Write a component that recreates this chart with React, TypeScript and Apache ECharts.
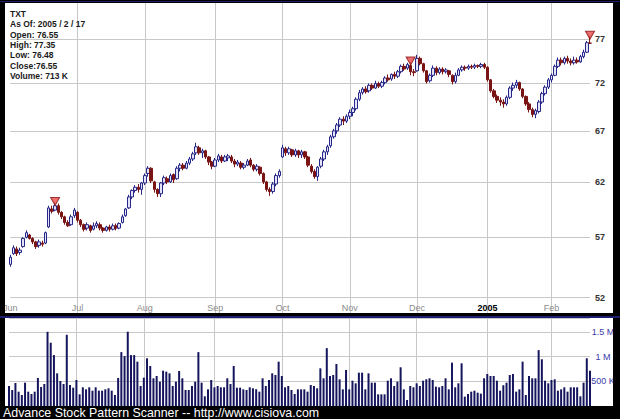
import React, { useEffect, useRef } from "react";
import * as echarts from "echarts";

// ---------- data ----------
const tickerName = "TXT";
const infoLines = [
  "TXT",
  "As Of: 2005 / 2 / 17",
  "Open: 76.55",
  "High: 77.35",
  "Low: 76.48",
  "Close:76.55",
  "Volume: 713 K",
];
const holidays = ["2004-06-11", "2004-07-05", "2004-09-06", "2004-11-25", "2004-12-24", "2005-01-17"];
const monthLabels = ["Jun", "Jul", "Aug", "Sep", "Oct", "Nov", "Dec", "2005", "Feb"];
const priceTicks = [52, 57, 62, 67, 72, 77];
const volumeTicks = [500, 1000, 1500];
const footerText = "Advance Stock Pattern Scanner -- http://www.cisiova.com";

// [open, close, low, high]
const ohlc: number[][] = [
  [54.7, 55.3, 54.5, 55.5], [55.6, 56.1, 55.5, 56.3], [56.0, 55.6, 55.4, 56.2], [55.7, 55.9, 55.5, 56.1],
  [56.2, 56.9, 56.1, 57.0], [57.0, 57.4, 56.9, 57.6], [57.2, 56.9, 56.8, 57.3], [56.9, 56.6, 56.4, 57.0],
  [56.6, 56.2, 56.0, 56.7], [56.3, 56.6, 56.1, 56.8], [56.5, 56.4, 56.2, 56.7], [56.5, 57.4, 56.4, 57.5],
  [57.9, 59.6, 57.8, 59.8], [59.5, 59.3, 59.1, 59.8], [59.4, 59.8, 59.3, 60.1], [59.8, 59.2, 59.0, 60.0],
  [59.2, 58.8, 58.6, 59.3], [58.8, 58.3, 58.1, 58.9], [58.3, 58.0, 57.9, 58.5], [58.1, 58.8, 58.0, 59.0],
  [58.9, 59.4, 58.7, 59.6],
  // Jul
  [59.2, 58.5, 58.3, 59.3], [58.5, 58.1, 57.9, 58.6], [58.1, 57.7, 57.5, 58.2], [57.8, 58.1, 57.6, 58.3],
  [58.0, 57.6, 57.4, 58.1], [57.7, 58.0, 57.6, 58.3], [58.0, 58.2, 57.8, 58.4], [58.1, 57.8, 57.6, 58.3],
  [57.8, 57.6, 57.4, 57.9], [57.6, 57.9, 57.5, 58.0], [57.9, 57.7, 57.5, 58.1], [57.7, 58.0, 57.6, 58.2],
  [58.0, 57.8, 57.6, 58.2], [57.8, 58.2, 57.7, 58.3], [58.3, 58.8, 58.2, 59.0], [58.9, 59.5, 58.8, 59.6],
  [59.6, 60.6, 59.5, 60.8], [60.6, 61.2, 60.4, 61.3], [61.2, 61.5, 61.0, 61.7], [61.5, 61.3, 61.0, 61.8],
  [61.3, 61.9, 60.8, 62.0],
  // Aug
  [61.9, 62.6, 61.7, 62.8], [62.8, 63.3, 62.5, 63.5], [63.3, 62.1, 61.9, 63.4], [62.0, 61.3, 61.0, 62.1],
  [61.3, 60.9, 60.6, 61.4], [60.9, 61.9, 60.6, 62.0], [61.9, 62.4, 61.7, 62.6], [62.3, 62.0, 61.8, 62.5],
  [62.0, 62.6, 61.9, 62.8], [62.7, 62.2, 61.9, 62.8], [62.3, 63.3, 62.2, 63.5], [63.3, 63.6, 63.0, 63.8],
  [63.6, 63.3, 63.1, 63.8], [63.3, 63.8, 63.2, 64.0], [63.8, 64.2, 63.6, 64.4], [64.2, 64.7, 64.0, 64.9],
  [64.8, 65.4, 64.6, 65.8], [65.3, 64.8, 64.6, 65.5], [64.8, 65.0, 64.3, 65.2], [65.0, 64.4, 64.2, 65.1],
  [64.4, 63.9, 63.6, 64.5], [63.9, 63.5, 63.2, 64.0],
  // Sep
  [63.5, 64.1, 63.4, 64.3], [64.1, 64.5, 63.9, 64.7], [64.4, 64.0, 63.8, 64.6], [64.0, 64.4, 63.9, 64.6],
  [64.3, 64.5, 64.0, 64.7], [64.4, 64.0, 63.8, 64.6], [64.0, 63.7, 63.4, 64.2], [63.7, 63.9, 63.5, 64.1],
  [63.8, 63.4, 63.2, 64.0], [63.4, 63.6, 63.2, 63.8], [63.6, 64.0, 63.5, 64.2], [64.1, 63.6, 63.4, 64.3],
  [63.6, 63.2, 63.0, 63.7], [63.2, 63.5, 63.0, 63.7], [63.4, 62.8, 62.6, 63.5], [62.8, 62.0, 61.8, 62.9],
  [62.0, 61.3, 61.1, 62.1], [61.3, 61.1, 60.7, 61.5], [61.1, 61.8, 60.9, 62.0], [61.8, 62.6, 61.6, 62.8],
  [62.6, 63.0, 62.4, 63.2],
  // Oct
  [64.4, 65.3, 64.3, 65.6], [65.2, 64.8, 64.5, 65.4], [64.8, 65.2, 64.6, 65.4], [65.1, 64.6, 64.4, 65.2],
  [64.6, 65.0, 64.4, 65.2], [65.0, 64.6, 64.3, 65.1], [64.6, 64.9, 64.3, 65.1], [64.9, 64.4, 64.2, 65.0],
  [64.4, 63.6, 63.4, 64.5], [63.5, 63.0, 62.8, 63.7], [63.0, 62.5, 62.3, 63.2], [62.5, 63.4, 62.1, 63.5],
  [63.5, 64.2, 63.3, 64.4], [64.2, 64.9, 64.0, 65.1], [64.9, 65.4, 64.6, 65.6], [65.5, 66.4, 65.3, 66.6],
  [66.4, 67.0, 66.2, 67.2], [67.0, 67.6, 66.7, 67.8], [67.6, 68.2, 67.4, 68.4], [68.2, 68.0, 67.6, 68.5],
  [68.0, 68.5, 67.8, 68.7],
  // Nov
  [68.5, 68.9, 68.2, 69.2], [68.9, 69.3, 68.5, 69.5], [69.3, 70.3, 69.1, 70.5], [70.3, 71.0, 70.1, 71.3],
  [71.0, 71.4, 70.8, 71.6], [71.4, 71.1, 70.9, 71.7], [71.2, 71.8, 71.0, 72.0], [71.8, 71.5, 71.3, 72.0],
  [71.5, 72.0, 71.4, 72.3], [72.0, 71.7, 71.5, 72.2], [71.7, 72.1, 71.5, 72.3], [72.1, 72.6, 71.9, 72.8],
  [72.6, 72.4, 72.2, 73.0], [72.5, 73.0, 72.3, 73.1], [73.0, 72.8, 72.5, 73.3], [72.8, 73.3, 72.6, 73.5],
  [73.3, 73.9, 73.1, 74.1], [73.9, 73.6, 73.4, 74.2], [73.7, 74.1, 73.5, 74.3], [74.0, 73.3, 72.9, 74.4],
  [73.3, 73.2, 72.8, 73.6],
  // Dec
  [73.4, 74.8, 73.3, 75.2], [74.8, 74.2, 74.0, 75.0], [74.2, 73.4, 73.2, 74.3], [73.4, 72.2, 72.0, 73.5],
  [72.3, 72.9, 72.1, 73.1], [72.9, 73.7, 72.7, 74.0], [73.7, 73.2, 72.9, 73.9], [73.2, 73.6, 73.0, 73.8],
  [73.6, 73.3, 73.0, 73.8], [73.3, 73.5, 73.1, 73.7], [73.4, 73.0, 72.7, 73.5], [72.9, 72.2, 71.9, 73.0],
  [72.2, 72.9, 72.0, 73.2], [72.9, 73.5, 72.8, 73.7], [73.5, 73.8, 73.3, 74.0], [73.8, 73.7, 73.4, 74.0],
  [73.7, 73.9, 73.5, 74.1], [73.9, 73.8, 73.6, 74.1], [73.8, 74.0, 73.6, 74.2], [74.0, 73.9, 73.7, 74.1],
  [73.9, 74.1, 73.7, 74.3], [74.1, 73.8, 73.6, 74.3],
  // Jan
  [73.8, 72.4, 72.2, 73.9], [72.4, 71.2, 71.0, 72.5], [71.2, 70.6, 70.4, 71.4], [70.6, 70.2, 69.9, 70.8],
  [70.2, 70.0, 69.6, 70.5], [70.0, 69.8, 69.4, 70.3], [69.8, 70.5, 69.6, 70.7], [70.5, 71.5, 70.3, 71.7],
  [71.5, 71.8, 71.2, 72.1], [71.8, 72.1, 71.5, 72.4], [72.1, 71.4, 71.2, 72.2], [71.4, 70.6, 70.4, 71.5],
  [70.6, 69.8, 69.6, 70.7], [69.8, 69.2, 68.9, 70.0], [69.2, 68.7, 68.4, 69.4], [68.7, 69.1, 68.3, 69.3],
  [69.0, 70.0, 68.8, 70.2], [70.0, 70.9, 69.8, 71.1], [70.9, 71.6, 70.7, 71.8], [71.6, 72.4, 71.4, 72.6],
  // Feb
  [72.4, 72.9, 72.1, 73.1], [72.9, 73.9, 72.8, 74.1], [73.9, 74.6, 73.7, 74.9], [74.6, 74.3, 74.0, 74.9],
  [74.3, 74.8, 74.1, 75.0], [74.8, 74.5, 74.2, 75.1], [74.5, 74.3, 74.0, 74.8], [74.3, 74.6, 74.1, 75.0],
  [74.6, 74.4, 74.2, 74.9], [74.4, 75.0, 74.3, 75.2], [75.0, 75.5, 74.8, 75.8], [75.5, 76.6, 75.4, 76.8],
  [76.55, 76.55, 76.48, 77.35],
];

// volume in thousands
const volumes = [
  405, 324, 465, 290, 223, 472, 290, 243, 290, 567,
  385, 445, 1500, 1280, 1030, 661, 506, 445, 1440, 425,
  371, 526, 236, 378, 337, 378, 310, 378, 310, 310,
  337, 358, 310, 223, 567, 1090, 1010, 1500, 1030, 1030,
  897, 405, 573, 965, 810, 560, 607, 492, 715, 695,
  661, 405, 492, 708, 560, 324, 324, 405, 492, 1090,
  472, 196, 337, 526, 378, 405, 378, 378, 560, 445,
  810, 371, 371, 337, 324, 378, 358, 337, 290, 560,
  405, 526, 661, 627, 897, 607, 378, 405, 324, 243,
  337, 337, 337, 290,
  425, 405, 358, 762, 560, 1170, 607, 627, 850, 540,
  337, 729, 337, 512, 459, 674, 674, 337, 661, 472,
  472, 236, 236, 236, 512, 560, 405, 492, 783, 337,
  121, 405, 378, 459, 405, 512, 540, 560, 526, 391,
  378, 405, 560, 337, 877, 378, 459, 863, 189, 243,
  290, 310, 270, 250, 560, 647, 607, 607, 512, 310,
  420, 472, 627, 647, 290, 337, 897, 223, 607, 560,
  560, 1130, 945, 512, 459, 526, 540, 310, 337, 378,
  290, 378, 378, 378, 196, 472, 965, 713,
];

const signalIndex = [14, 125, 181];

// ---------- helpers ----------
function tradingDays(): string[] {
  const out: string[] = [];
  const d = new Date(Date.UTC(2004, 5, 1));
  const end = Date.UTC(2005, 1, 17);
  while (d.getTime() <= end) {
    const wd = d.getUTCDay();
    const s = d.toISOString().slice(0, 10);
    if (wd !== 0 && wd !== 6 && holidays.indexOf(s) < 0) out.push(s);
    d.setUTCDate(d.getUTCDate() + 1);
  }
  return out;
}

const FONT = "'Liberation Sans', Arial, sans-serif";

export default function App() {
  const ref = useRef<HTMLDivElement>(null);

  useEffect(() => {
    if (!ref.current) return;
    const chart = echarts.init(ref.current, null, { renderer: "svg" });

    const dates = tradingDays();
    const monthStart: Record<number, string> = {};
    let m = -1;
    let k = 0;
    dates.forEach((d, i) => {
      const mm = Number(d.slice(5, 7));
      if (mm !== m) {
        monthStart[i] = monthLabels[k] ?? "";
        k += 1;
        m = mm;
      }
    });

    // log scale mapping: 77 -> y 39.3, 52 -> y 297.7
    const pxPerLn = (297.7 - 39.3) / Math.log(77 / 52);
    const gridTop = 3;
    const gridBottomY = 313;
    const yMax = 52 * Math.exp((297.7 - gridTop) / pxPerLn);
    const yMin = 52 * Math.exp(-(gridBottomY - 297.7) / pxPerLn);

    const gridColor = "#c8c8c8";

    const option: any = {
      animation: false,
      backgroundColor: "#ffffff",
      grid: [
        { left: 9, right: 30, top: gridTop, height: gridBottomY - gridTop },
        { left: 9, right: 30, top: 318, height: 88 },
      ],
      xAxis: [
        {
          type: "category",
          gridIndex: 0,
          data: dates,
          boundaryGap: false,
          axisLine: { show: false },
          axisTick: { show: false },
          axisLabel: {
            inside: true,
            margin: 1,
            interval: (i: number) => monthStart[i] !== undefined,
            hideOverlap: false,
            showMinLabel: true,
            formatter: (_v: string, i: number) => {
              const t = monthStart[i] ?? "";
              return /^\d{4}$/.test(t) ? `{b|${t}}` : t;
            },
            color: "#8a8a8a",
            fontSize: 9,
            fontFamily: FONT,
            rich: {
              b: { fontWeight: "bold", color: "#000", fontSize: 9, fontFamily: FONT },
            },
          },
          splitLine: {
            show: true,
            interval: (i: number) => i > 0 && monthStart[i] !== undefined,
            lineStyle: { color: gridColor, width: 1 },
          },
        },
        {
          type: "category",
          gridIndex: 1,
          data: dates,
          boundaryGap: false,
          axisLine: { show: false },
          axisTick: { show: false },
          axisLabel: { show: false },
          splitLine: {
            show: true,
            interval: (i: number) => i > 0 && monthStart[i] !== undefined,
            lineStyle: { color: gridColor, width: 1 },
          },
        },
      ],
      yAxis: [
        {
          type: "log",
          gridIndex: 0,
          min: yMin,
          max: yMax,
          axisLine: { show: false },
          axisTick: { show: false },
          axisLabel: { show: false },
          splitLine: { show: false },
        },
        {
          type: "value",
          gridIndex: 1,
          position: "right",
          min: 0,
          max: 1780,
          interval: 500,
          axisLine: { show: false },
          axisTick: { show: false },
          axisLabel: {
            margin: 13,
            align: "center",
            showMaxLabel: false,
            color: "#3a3aa8",
            fontSize: 9,
            fontFamily: FONT,
            formatter: (v: number) =>
              volumeTicks.indexOf(v) < 0 ? "" : v >= 1000 ? `${v / 1000} M` : `${v} K`,
          },
          splitLine: { show: true, lineStyle: { color: gridColor, width: 1 } },
        },
      ],
      series: [
        {
          type: "candlestick",
          name: tickerName,
          xAxisIndex: 0,
          yAxisIndex: 0,
          data: ohlc,
          barWidth: 3,
          itemStyle: {
            color: "#e4e4f6",
            color0: "#7a1414",
            borderColor: "#27278a",
            borderColor0: "#7a1414",
            borderWidth: 1,
          },
          markLine: {
            silent: true,
            symbol: "none",
            z: 1,
            animation: false,
            lineStyle: { color: gridColor, width: 1, type: "solid" },
            label: {
              position: "end",
              distance: 5,
              formatter: (p: any) => String(p.value),
              color: "#333",
              fontSize: 9,
              fontWeight: "bold",
              fontFamily: FONT,
            },
            data: priceTicks.map((v) => ({ yAxis: v })),
          },
        },
        {
          type: "scatter",
          xAxisIndex: 0,
          yAxisIndex: 0,
          symbol: "triangle",
          symbolRotate: 180,
          symbolSize: [9, 8],
          symbolOffset: [0, -1],
          itemStyle: { color: "#e84a4a", borderColor: "#8a1010", borderWidth: 1 },
          data: signalIndex.map((i) => [i, ohlc[i][3]]),
          z: 5,
        },
        {
          type: "bar",
          xAxisIndex: 1,
          yAxisIndex: 1,
          data: volumes,
          barWidth: 2,
          itemStyle: { color: "#15155e" },
        },
      ],
      graphic: [
        ...infoLines.map((t, i) => ({
          type: "text",
          x: 10,
          y: 14 + i * 10.3,
          z: 50,
          style: {
            text: t,
            fill: "#1a1a1a",
            font: `bold 8.5px ${FONT}`,
            verticalAlign: "middle",
          },
        })),
        // black frame
        { type: "rect", z: 100, shape: { x: 0, y: 0, width: 620, height: 3 }, style: { fill: "#000" } },
        { type: "rect", z: 100, shape: { x: 0, y: 0, width: 5, height: 419 }, style: { fill: "#000" } },
        { type: "rect", z: 100, shape: { x: 613, y: 0, width: 7, height: 419 }, style: { fill: "#000" } },
        { type: "rect", z: 100, shape: { x: 0, y: 313, width: 620, height: 5 }, style: { fill: "#000" } },
        { type: "rect", z: 100, shape: { x: 0, y: 406, width: 620, height: 13 }, style: { fill: "#000" } },
        // navy inner borders
        { type: "rect", z: 101, shape: { x: 0, y: 1, width: 620, height: 1 }, style: { fill: "#1c1c70" } },
        { type: "rect", z: 101, shape: { x: 0, y: 316, width: 620, height: 2 }, style: { fill: "#1c1c70" } },
        {
          type: "text",
          x: 3,
          y: 413,
          z: 102,
          style: {
            text: footerText,
            fill: "#ffffff",
            font: `12.4px ${FONT}`,
            verticalAlign: "middle",
          },
        },
      ],
    };

    chart.setOption(option);
    return () => chart.dispose();
  }, []);

  return (
    <div
      ref={ref}
      style={{ position: "fixed", left: 0, top: 0, width: 620, height: 419 }}
    />
  );
}
